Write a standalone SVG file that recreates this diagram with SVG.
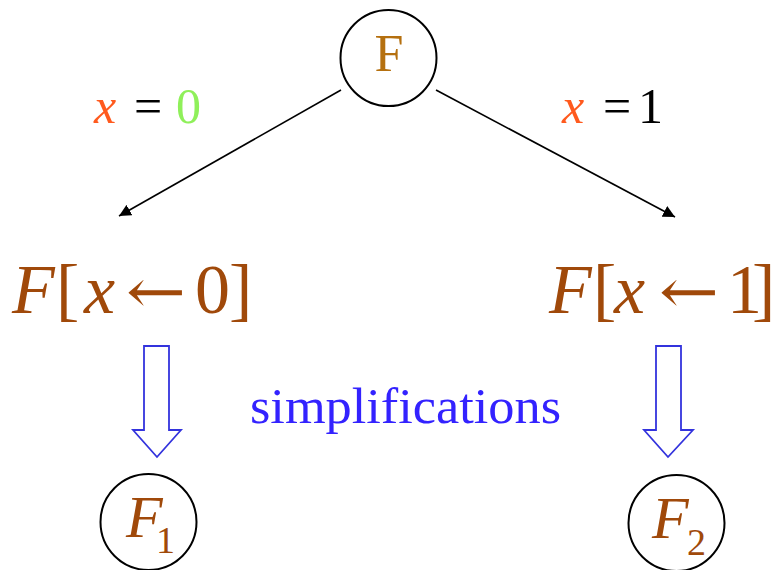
<svg xmlns="http://www.w3.org/2000/svg" width="776" height="570" viewBox="0 0 776 570">
<style>
.node{fill:#fff;stroke:#000;stroke-width:2}
.t{font-family:"Liberation Serif","Times New Roman",serif}
.ar{font-family:"DejaVu Serif","DejaVu Sans",serif;font-size:62px}
.br{fill:#A0490A}
.it{font-style:italic}
.edge{stroke:#000;stroke-width:1.6;fill:none}
.blk{fill:none;stroke:#3333dd;stroke-width:1.8}
.xo{fill:#FF5A1E;font-style:italic}
.big{font-size:70px}
.lab{font-size:50px}
</style>
<defs>
<marker id="ah" viewBox="0 0 10 10" refX="10" refY="5" markerWidth="12" markerHeight="12" markerUnits="userSpaceOnUse" orient="auto">
<path d="M0,0 L10,5 L0,10 z" fill="#000"/>
</marker>
</defs>
<rect width="776" height="570" fill="#fff"/>
<g id="connectors">
<line class="edge" x1="341" y1="90" x2="119" y2="216" marker-end="url(#ah)"/>
<line class="edge" x1="436" y1="90" x2="675" y2="217" marker-end="url(#ah)"/>
<path class="blk" d="M144,346 H169 V430 H181 L157,457 L133,430 H144 Z"/>
<path class="blk" d="M656,346 H681 V430 H693 L668,457 L644,430 H656 Z"/>
</g>
<g id="nodeF">
<circle class="node" cx="388.5" cy="58" r="48"/>
<text class="t" x="389" y="71" font-size="52" fill="#B5700F" text-anchor="middle">F</text>
</g>
<g id="label0">
<text class="t lab xo" x="94" y="123">x</text>
<text class="t lab" x="148" y="123" text-anchor="middle" fill="#000">=</text>
<text class="t lab" x="176" y="123" fill="#8FF05A">0</text>
</g>
<g id="label1">
<text class="t lab xo" x="562" y="123">x</text>
<text class="t lab" x="617" y="123" text-anchor="middle" fill="#000">=</text>
<text class="t lab" x="638" y="123" fill="#000">1</text>
</g>
<g id="nodeFx0">
<text class="t br big it" x="12" y="313">F</text>
<text class="t br big" x="56" y="313">[</text>
<text class="t br big it" x="84" y="313">x</text>
<text class="ar br" x="126" y="313" textLength="60" lengthAdjust="spacingAndGlyphs">←</text>
<text class="t br big" x="195" y="313">0</text>
<text class="t br big" x="229" y="313">]</text>
</g>
<g id="nodeFx1">
<text class="t br big it" x="549" y="313">F</text>
<text class="t br big" x="593" y="313">[</text>
<text class="t br big it" x="614" y="313">x</text>
<text class="ar br" x="659" y="313" textLength="60" lengthAdjust="spacingAndGlyphs">←</text>
<text class="t br big" x="727" y="313">1</text>
<text class="t br big" x="752" y="313">]</text>
</g>
<g id="simp">
<text class="t" x="250" y="423" font-size="50" fill="#3322FF" textLength="311" lengthAdjust="spacingAndGlyphs">simplifications</text>
</g>
<g id="nodeF1">
<circle class="node" cx="148.5" cy="522" r="48"/>
<text class="t br it" x="126" y="537" font-size="60">F</text>
<text class="t br" x="156" y="553" font-size="38">1</text>
</g>
<g id="nodeF2">
<circle class="node" cx="676.5" cy="523" r="48"/>
<text class="t br it" x="652" y="538" font-size="60">F</text>
<text class="t br" x="687" y="555" font-size="38">2</text>
</g>
</svg>
